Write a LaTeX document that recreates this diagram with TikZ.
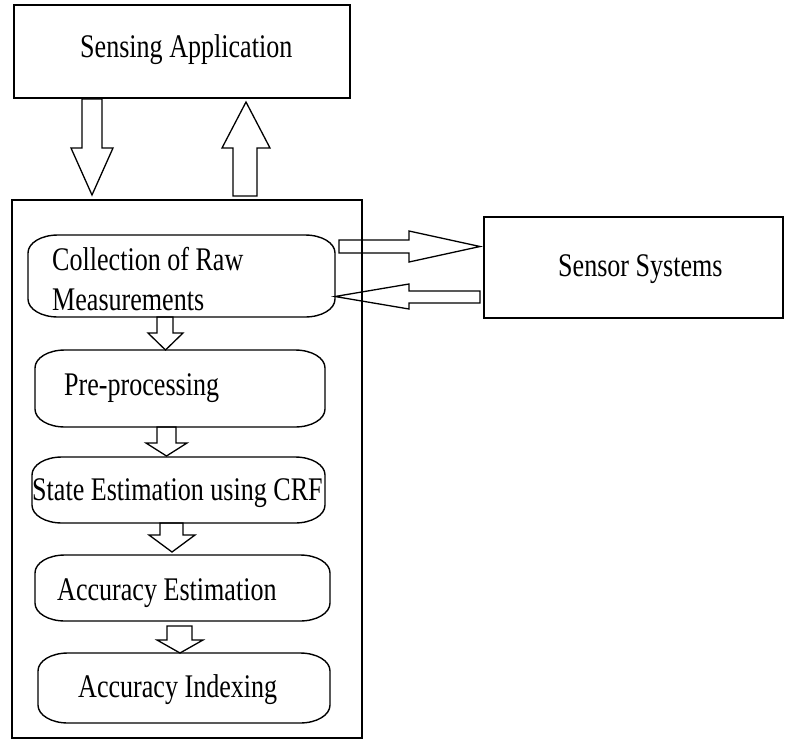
\documentclass[tikz,border=0pt]{standalone}
\usepackage{fontspec}
\newfontfamily\tnr[FakeStretch=0.79]{Liberation Serif}
\tikzset{
  bline/.style={draw, line width=1.4pt},
  blk/.style={draw, line width=1.3pt, line join=miter},
  lbl/.style={inner sep=0pt, anchor=base west, font=\tnr\fontsize{33}{40}\selectfont}
}
% rounded (terminator-like) box with elliptical corners: name, x1, y1, x2, y2
\newcommand\rBox[5]{%
  \draw[bline] ({#2+30},#3) -- ({#4-30},#3)
    .. controls ({#4-13},#3) and (#4,{#3+8}) .. (#4,{#3+18})
    -- (#4,{#5-18})
    .. controls (#4,{#5-8}) and ({#4-13},#5) .. ({#4-30},#5)
    -- ({#2+30},#5)
    .. controls ({#2+13},#5) and (#2,{#5-8}) .. (#2,{#5-18})
    -- (#2,{#3+18})
    .. controls (#2,{#3+8}) and ({#2+13},#3) .. ({#2+30},#3) -- cycle;
  \coordinate (#1) at ({(#2+#4)/2},{(#3+#5)/2});}
% vertical block arrow: shaft left, shaft right, head left, head right, shaft start y, head base y, tip y
\newcommand\vBlk[7]{\draw[blk] (#1,#5) -- (#1,#6) -- (#3,#6) -- ({(#3+#4)/2},#7) -- (#4,#6) -- (#2,#6) -- (#2,#5) -- cycle;}
% horizontal block arrow: shaft top, shaft bottom, head top, head bottom, shaft start x, head base x, tip x
\newcommand\hBlk[7]{\draw[blk] (#5,#1) -- (#6,#1) -- (#6,#3) -- (#7,{(#3+#4)/2}) -- (#6,#4) -- (#6,#2) -- (#5,#2) -- cycle;}
\begin{document}
\begin{tikzpicture}[x=1pt,y=-1pt]
\useasboundingbox (0,0) rectangle (788,740);
% boxes
\draw[bline] (14,5) rectangle (350,98) coordinate[pos=.5] (sa);
\draw[bline] (12,200) rectangle (362,738) coordinate[pos=.5] (main);
\draw[bline] (484,217) rectangle (783,318) coordinate[pos=.5] (ss);
\rBox{b1}{28}{235}{335}{317}
\rBox{b2}{35}{350}{325}{427}
\rBox{b3}{32}{457}{325}{523}
\rBox{b4}{35}{555}{330}{621}
\rBox{b5}{38}{653}{330}{723}
% texts
\node[lbl] (tsa) at (80,57) {Sensing Application};
\node[lbl] (tss) at (558,276) {Sensor Systems};
\node[lbl] (t1a) at (52,270) {Collection of Raw};
\node[lbl] (t1b) at (52,310) {Measurements};
\node[lbl] (t2) at (64,395) {Pre-processing};
\node[lbl] (t3) at (32,500) {State Estimation using CRF};
\node[lbl] (t4) at (57,600) {Accuracy Estimation};
\node[lbl] (t5) at (78,697) {Accuracy Indexing};
% block arrows
\vBlk{82}{102}{71}{113}{99}{148}{195}
\vBlk{233}{257}{222}{270}{196}{148}{102}
\vBlk{157}{173}{148}{183}{317}{333}{350}
\vBlk{157}{176}{146}{187}{427}{443}{456}
\vBlk{160}{183}{149}{195}{523}{535}{552}
\vBlk{167}{192}{157}{203}{626}{640}{653}
\hBlk{240}{253}{231}{262}{339}{409}{480}
\hBlk{291}{303}{284}{309}{480}{409}{335}
\end{tikzpicture}
\end{document}
